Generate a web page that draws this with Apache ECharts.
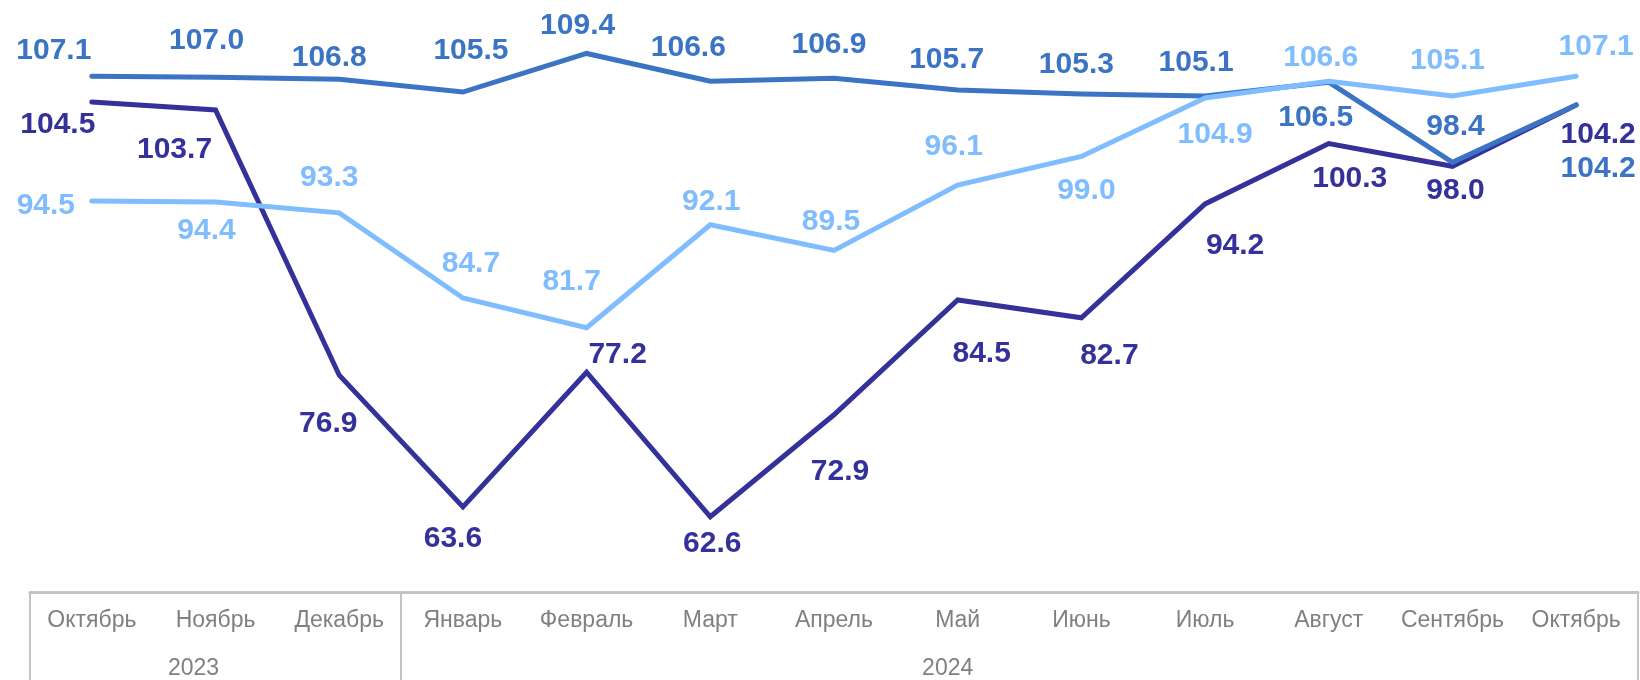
<!DOCTYPE html>
<html>
<head>
<meta charset="utf-8">
<script src="https://cdn.jsdelivr.net/npm/echarts@6/dist/echarts.min.js"></script>
<style>
html,body{margin:0;padding:0;background:#fff;}
#chart{width:1640px;height:680px;}
</style>
</head>
<body>
<div id="chart"></div>
<script>
const categories = ['Октябрь','Ноябрь','Декабрь','Январь','Февраль','Март','Апрель','Май','Июнь','Июль','Август','Сентябрь','Октябрь'];
const yearLabels = ['', '2023', '', '', '', '', '', '2024', '', '', '', '', ''];

const seriesMid = [107.1, 107.0, 106.8, 105.5, 109.4, 106.6, 106.9, 105.7, 105.3, 105.1, 106.5, 98.4, 104.2];
const seriesLight = [94.5, 94.4, 93.3, 84.7, 81.7, 92.1, 89.5, 96.1, 99.0, 104.9, 106.6, 105.1, 107.1];
const seriesDark = [104.5, 103.7, 76.9, 63.6, 77.2, 62.6, 72.9, 84.5, 82.7, 94.2, 100.3, 98.0, 104.2];

// label offsets (styling only)
const offMid = [[-38,-25],[-9,-36],[-10,-21],[8,-41],[-9,-28],[-22,-33],[-5,-33],[-11,-30],[-5,-29],[-9,-33],[-13,36],[3,-36],[22,64]];
const offLight = [[-46,5],[-9,29],[-10,-35],[8,-34],[-15,-46],[1,-23],[-3,-29],[-4,-38],[5,34],[10,37],[-8,-23],[-5,-35],[20,-29]];
const offDark = [[-34,23],[-41,40],[-11,49],[-10,32],[31,-17],[2,27],[6,57],[24,54],[28,38],[30,42],[21,35],[3,24],[22,30]];

const colMid = '#3b74c5', colLight = '#80bdff', colDark = '#35319a';
const FONT = "'Liberation Sans', Arial, sans-serif";

function build(values, offs) {
  return values.map((v, i) => ({ value: v, label: { offset: offs[i] } }));
}
function mkSeries(name, values, offs, color, z) {
  return {
    name: name,
    type: 'line',
    data: build(values, offs),
    z: z,
    symbol: 'circle',
    symbolSize: 1,
    showSymbol: true,
    itemStyle: { color: color },
    lineStyle: { color: color, width: 5, cap: 'round', join: 'miter' },
    label: {
      show: true,
      position: 'inside',
      color: color,
      fontFamily: FONT,
      fontWeight: 'bold',
      fontSize: 30,
      formatter: p => p.value.toFixed(1)
    },
    emphasis: { disabled: true },
    silent: true
  };
}

const chart = echarts.init(document.getElementById('chart'));
chart.setOption({
  animation: false,
  backgroundColor: '#ffffff',
  grid: { left: 30, right: 2, top: 0, bottom: 87, containLabel: false },
  xAxis: [{
    type: 'category',
    data: categories,
    boundaryGap: true,
    axisLine: { show: true, lineStyle: { color: '#c3c3c3', width: 3 } },
    axisTick: {
      show: true,
      length: 92,
      interval: function (index) { return index === 0 || index === 3; },
      lineStyle: { color: '#c3c3c3', width: 2 }
    },
    axisLabel: {
      interval: 0,
      margin: 17,
      color: '#808080',
      fontFamily: FONT,
      fontSize: 23
    }
  }, {
    type: 'category',
    data: yearLabels,
    position: 'bottom',
    boundaryGap: true,
    axisLine: { show: false },
    axisTick: { show: false },
    axisLabel: {
      interval: 0,
      margin: 65,
      color: '#808080',
      fontFamily: FONT,
      fontSize: 23,
      formatter: function (v) {
        if (v === '2023') return '{a|' + v + '}';
        if (v === '2024') return '{b|' + v + '}';
        return v;
      },
      rich: {
        a: { color: '#808080', fontFamily: FONT, fontSize: 23, padding: [0, 44, 0, 0] },
        b: { color: '#808080', fontFamily: FONT, fontSize: 23, padding: [0, 20, 0, 0] }
      }
    }
  }],
  yAxis: { type: 'value', min: 55, max: 114.8, show: false },
  series: [
    mkSeries('Dark', seriesDark, offDark, colDark, 2),
    mkSeries('Mid', seriesMid, offMid, colMid, 3),
    mkSeries('Light', seriesLight, offLight, colLight, 4)
  ]
});
</script>
</body>
</html>
